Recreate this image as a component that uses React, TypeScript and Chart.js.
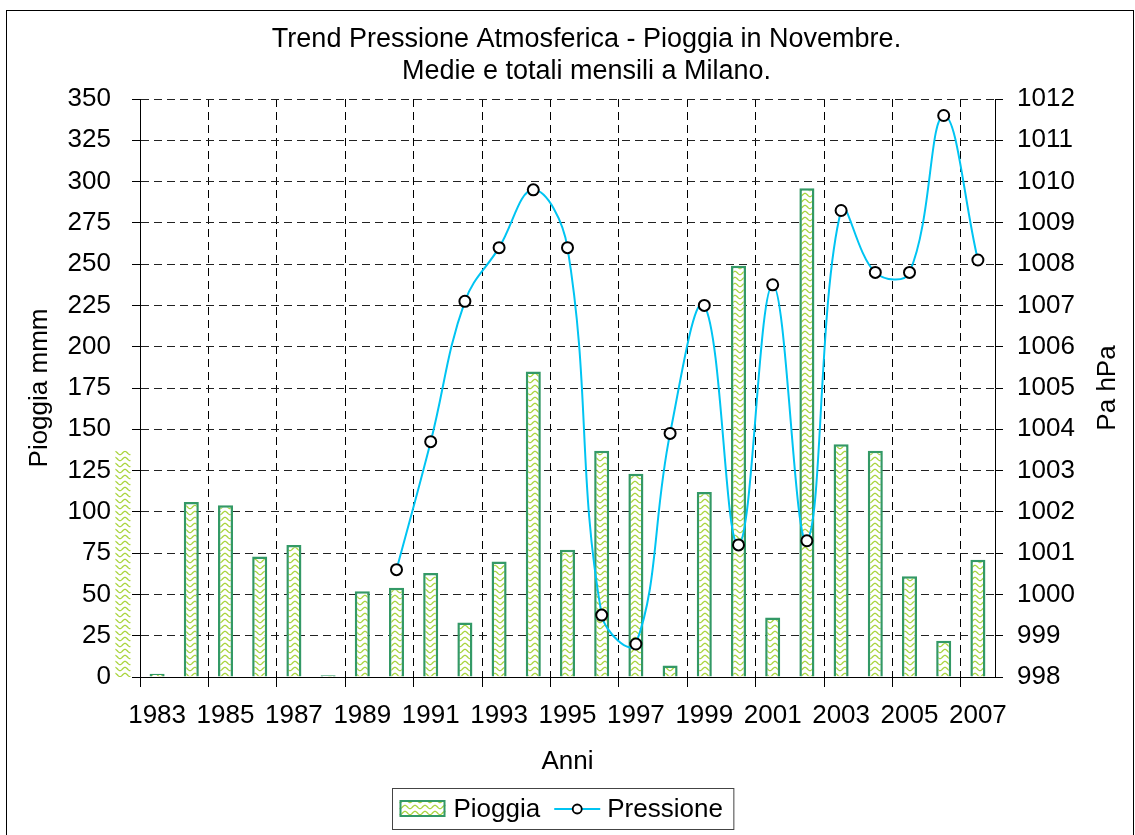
import React, { useEffect, useRef } from 'react';
import { Chart, registerables } from 'chart.js';

Chart.register(...registerables);

// ---- data ----
const YEARS = [
  '1983', '1984', '1985', '1986', '1987', '1988', '1989', '1990', '1991', '1992',
  '1993', '1994', '1995', '1996', '1997', '1998', '1999', '2000', '2001', '2002',
  '2003', '2004', '2005', '2006', '2007',
];
const RAIN = [
  2, 106, 104, 73, 80, 1, 52, 54, 63, 33,
  70, 185, 77, 137, 123, 7, 112, 249, 36, 296,
  141, 137, 61, 22, 71,
];
const PRESSURE = [
  null, null, null, null, null, null, null, 1000.6, 1003.7, 1007.1,
  1008.4, 1009.8, 1008.4, 999.5, 998.8, 1003.9, 1007.0, 1001.2, 1007.5, 1001.3,
  1009.3, 1007.8, 1007.8, 1011.6, 1008.1,
];
// the previous year's bar (1982) shows partly, outside the plot on the left
const PRIOR_YEAR_RAIN = 137;

const TITLE_LINES = ['Trend Pressione Atmosferica - Pioggia in Novembre.', 'Medie e totali mensili a Milano.'];
const RAIN_LABEL = 'Pioggia';
const PRESSURE_LABEL = 'Pressione';
const LEFT_TITLE = 'Pioggia mmm';
const RIGHT_TITLE = 'Pa hPa';
const X_TITLE = 'Anni';

const FONT = '"Liberation Sans", Arial, Helvetica, sans-serif';
const BAR_BORDER = '#339966';
const LINE_COLOR = '#00c4f2';
const WAVE_COLOR = '#a9d43c';

function makePattern(): CanvasPattern | string {
  const c = document.createElement('canvas');
  c.width = 10;
  c.height = 6;
  const g = c.getContext('2d');
  if (!g) return '#d8ec9c';
  g.fillStyle = '#ffffff';
  g.fillRect(0, 0, 10, 6);
  g.strokeStyle = WAVE_COLOR;
  g.lineWidth = 1.3;
  g.beginPath();
  for (let i = 0; i <= 20; i++) {
    const x = i * 0.5;
    const y = 3 + 1.6 * Math.sin((2 * Math.PI * x) / 10 + Math.PI / 2);
    if (i === 0) g.moveTo(x, y);
    else g.lineTo(x, y);
  }
  g.stroke();
  const p = g.createPattern(c, 'repeat');
  return p || '#d8ec9c';
}

export default function App() {
  const ref = useRef<HTMLCanvasElement | null>(null);

  useEffect(() => {
    const canvas = ref.current;
    if (!canvas) return;
    const pattern = makePattern();

    const decor = {
      id: 'decor',
      beforeDatasetsDraw(chart: any) {
        const { ctx } = chart;
        const xs = chart.scales.x;
        const ys = chart.scales.y;
        const meta = chart.getDatasetMeta(1);
        const w = meta && meta.data[0] ? meta.data[0].width : 15;
        const cx = xs.getPixelForValue(-1);
        const top = ys.getPixelForValue(PRIOR_YEAR_RAIN);
        const bottom = ys.getPixelForValue(0);
        ctx.save();
        ctx.fillStyle = pattern;
        ctx.fillRect(cx - w / 2, top, w, bottom - top);
        ctx.restore();
      },
      afterDraw(chart: any) {
        const { ctx, chartArea } = chart;
        const { left, right, top, bottom } = chartArea;
        ctx.save();
        // outer frame
        ctx.strokeStyle = '#000';
        ctx.lineWidth = 1;
        ctx.strokeRect(6.5, 10.5, chart.width - 8, chart.height + 20);

        // title
        ctx.fillStyle = '#000';
        ctx.font = `27px ${FONT}`;
        ctx.textAlign = 'center';
        ctx.textBaseline = 'middle';
        const tcx = (left + right) / 2 + 19;
        TITLE_LINES.forEach((t, i) => ctx.fillText(t, tcx, top - 59 + i * 32));

        // right axis title
        ctx.font = `26px ${FONT}`;
        ctx.save();
        ctx.translate(right + 113, (top + bottom) / 2);
        ctx.rotate(-Math.PI / 2);
        ctx.fillText(RIGHT_TITLE, 0, 0);
        ctx.restore();

        // legend
        ctx.font = `26px ${FONT}`;
        const w1 = ctx.measureText(RAIN_LABEL).width;
        const w2 = ctx.measureText(PRESSURE_LABEL).width;
        const boxW = 7 + 46 + 8 + w1 + 14 + 46 + 7 + w2 + 11;
        const boxH = 41;
        const bx = Math.round((left + right) / 2 - 5 - boxW / 2) + 0.5;
        const by = Math.round(bottom + 111) + 0.5;
        ctx.strokeStyle = '#444';
        ctx.lineWidth = 1;
        ctx.strokeRect(bx, by, boxW, boxH);
        const cy = by + boxH / 2;
        // bar swatch
        let x = bx + 7;
        ctx.fillStyle = pattern;
        ctx.fillRect(x, cy - 9, 46, 17);
        ctx.strokeStyle = BAR_BORDER;
        ctx.lineWidth = 2;
        ctx.strokeRect(x + 1, cy - 8, 44, 15);
        x += 46 + 8;
        ctx.fillStyle = '#000';
        ctx.textAlign = 'left';
        ctx.textBaseline = 'middle';
        ctx.fillText(RAIN_LABEL, x, cy + 1);
        x += w1 + 14;
        // line swatch
        ctx.strokeStyle = LINE_COLOR;
        ctx.lineWidth = 2;
        ctx.beginPath();
        ctx.moveTo(x, cy);
        ctx.lineTo(x + 46, cy);
        ctx.stroke();
        ctx.beginPath();
        ctx.arc(x + 23, cy, 4.5, 0, Math.PI * 2);
        ctx.fillStyle = '#fff';
        ctx.fill();
        ctx.strokeStyle = '#000';
        ctx.lineWidth = 1.8;
        ctx.stroke();
        x += 46 + 7;
        ctx.fillStyle = '#000';
        ctx.fillText(PRESSURE_LABEL, x, cy + 1);
        ctx.restore();
      },
    };

    const everyOther = (c: any) => (c.index % 2 === 0 ? '#000' : 'rgba(0,0,0,0)');

    const chart = new Chart(canvas, {
      type: 'bar',
      data: {
        labels: YEARS,
        datasets: [
          {
            type: 'line',
            label: PRESSURE_LABEL,
            data: PRESSURE,
            yAxisID: 'y1',
            borderColor: LINE_COLOR,
            borderWidth: 2,
            tension: 0.4,
            fill: false,
            pointRadius: 5.5,
            pointBackgroundColor: '#fff',
            pointBorderColor: '#000',
            pointBorderWidth: 2,
            spanGaps: false,
            order: 0,
          } as any,
          {
            type: 'bar',
            label: RAIN_LABEL,
            data: RAIN,
            yAxisID: 'y',
            backgroundColor: pattern as any,
            borderColor: BAR_BORDER,
            borderWidth: 2.5,
            barPercentage: 0.44,
            categoryPercentage: 1.0,
            order: 1,
          },
        ],
      },
      options: {
        responsive: false,
        animation: false,
        devicePixelRatio: 1,
        layout: { padding: { top: 99, left: 6, right: 0, bottom: 58 } },
        plugins: {
          legend: { display: false },
          title: { display: false },
          tooltip: { enabled: false },
        },
        scales: {
          x: {
            type: 'category',
            offset: true,
            grid: {
              offset: true,
              color: everyOther,
              tickColor: everyOther,
              tickLength: 10,
              lineWidth: 1,
              tickBorderDash: [],
            } as any,
            border: { display: true, color: '#000', width: 1, dash: [8, 5] },
            ticks: {
              autoSkip: false,
              maxRotation: 0,
              minRotation: 0,
              padding: 13,
              color: '#000',
              font: { family: FONT, size: 26 },
              callback: (_v: any, i: number) => (i % 2 === 0 ? YEARS[i] : ''),
            },
            title: {
              display: true,
              text: X_TITLE,
              color: '#000',
              font: { family: FONT, size: 26 },
              padding: { top: 0, bottom: 0 },
            },
            afterFit: (s: any) => {
              s.height = 100;
            },
          },
          y: {
            type: 'linear',
            position: 'left',
            min: 0,
            max: 350,
            grid: {
              color: '#222',
              lineWidth: 1,
              tickLength: 8,
              tickColor: '#000',
              tickBorderDash: [],
            } as any,
            border: { display: true, color: '#000', width: 1, dash: [8, 5] },
            ticks: {
              stepSize: 25,
              padding: 21,
              color: '#000',
              font: { family: FONT, size: 26 },
              callback: (v: any) => String(v),
            },
            title: {
              display: true,
              text: LEFT_TITLE,
              color: '#000',
              font: { family: FONT, size: 26 },
              padding: { top: 18, bottom: 0 },
            },
            afterFit: (s: any) => {
              s.width = 134;
            },
          },
          y1: {
            type: 'linear',
            position: 'right',
            min: 998,
            max: 1012,
            grid: {
              drawOnChartArea: false,
              tickLength: 8,
              tickColor: '#000',
              color: '#000',
            },
            border: { display: true, color: '#000', width: 1 },
            ticks: {
              stepSize: 1,
              padding: 14,
              color: '#000',
              font: { family: FONT, size: 26 },
              callback: (v: any) => String(v),
            },
            afterFit: (s: any) => {
              s.width = 140;
            },
          },
        },
      },
      plugins: [decor],
    });

    return () => {
      chart.destroy();
    };
  }, []);

  return (
    <div style={{ position: 'fixed', left: 0, top: 0, width: 1135, height: 835, background: '#fff' }}>
      <canvas ref={ref} width={1135} height={835} style={{ display: 'block' }} />
    </div>
  );
}
